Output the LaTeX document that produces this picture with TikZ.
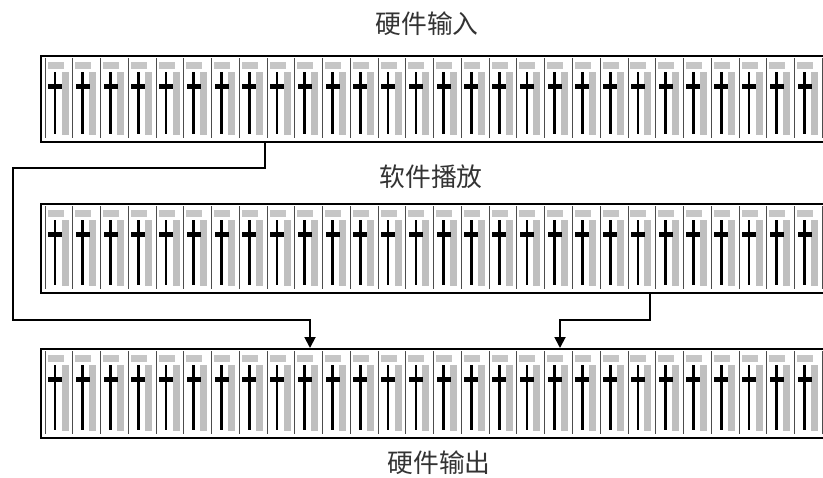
\documentclass[tikz,border=0pt]{standalone}
\usepackage{fontspec}
\newfontfamily\cjk{Noto Sans CJK SC}
\usetikzlibrary{arrows.meta}

\begin{document}
\begin{tikzpicture}[x=0.03cm, y=-0.03cm,
    mixer/.style={draw, line width=1.6pt, anchor=north west, inner sep=0pt,
                  minimum width=24.6cm},
    title/.style={font=\cjk\fontsize{22}{26}\selectfont, text=black!80},
    arr/.style={-{Triangle[length=0.33cm, width=0.33cm]}, line width=1.6pt}
  ]
    \useasboundingbox (0,0) rectangle (823,477);
    % the three mixer rows, cut off at the right edge
    \begin{scope}
      \clip (0,0) rectangle (823,477);
      \foreach \y/\h/\name in {55/86/topmix, 203/89/midmix, 348/89/botmix} {
        \node[mixer, minimum height=\h*0.03cm] (\name) at (40,\y) {};
        \foreach \i in {0,...,28} {
          \pgfmathsetmacro{\x}{45+27.76*\i}
          \fill[gray!45] (\x+2.5,\y+7) rectangle (\x+18.5,\y+14);
          \fill[gray!50] (\x+16.5,\y+17) rectangle (\x+23.5,\y+\h-6);
          \draw[line width=2.3pt] (\x+10,\y+17) -- (\x+10,\y+\h-7);
          \fill (\x+3,\y+29) rectangle (\x+17,\y+34);
          \draw[gray!60!black, line width=0.8pt] (\x,\y+3) -- (\x,\y+\h-3);
        }
      }
    \end{scope}
    \node[title] (inlabel) at (427,24) {硬件输入};
    \node[title] (playlabel) at (431,177) {软件播放};
    \node[title] (outlabel) at (439,463) {硬件输出};
    % routing
    \coordinate (tapA) at (265,168);
    \coordinate (bendA) at (13,168);
    \coordinate (kneeA) at (310,320);
    \coordinate (tapB) at (650,320);
    \coordinate (kneeB) at (560,320);
    \draw[arr] (topmix.south -| tapA) -- (tapA) -- (bendA) |- (kneeA)
      -- (botmix.north -| kneeA);
    \draw[arr] (midmix.south -| tapB) -- (tapB) -- (kneeB)
      -- (botmix.north -| kneeB);
\end{tikzpicture}
\end{document}
